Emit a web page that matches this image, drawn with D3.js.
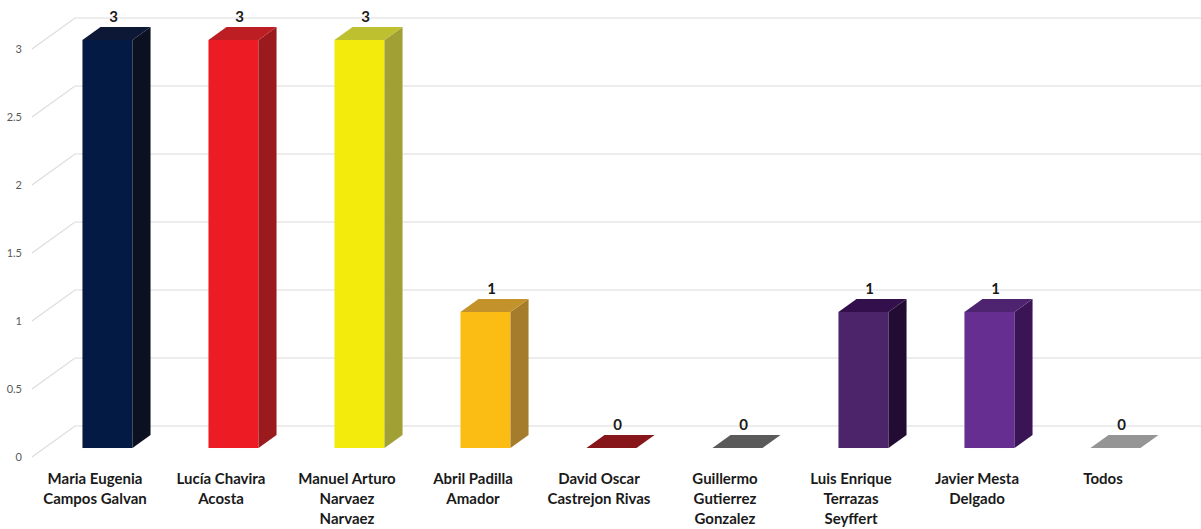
<!DOCTYPE html>
<html>
<head>
<meta charset="utf-8">
<script src="https://cdn.jsdelivr.net/npm/d3@7"></script>
<style>
  body { margin: 0; background: #fff; }
  svg { display: block; }
</style>
</head>
<body>
<svg id="chart" width="1201" height="529"></svg>
<script>
const categories = [
  'Maria Eugenia\nCampos Galvan',
  'Lucía Chavira\nAcosta',
  'Manuel Arturo\nNarvaez\nNarvaez',
  'Abril Padilla\nAmador',
  'David Oscar\nCastrejon Rivas',
  'Guillermo\nGutierrez\nGonzalez',
  'Luis Enrique\nTerrazas\nSeyffert',
  'Javier Mesta\nDelgado',
  'Todos'
];
const values = [3, 3, 3, 1, 0, 0, 1, 1, 0];
const yTicks = [0, 0.5, 1, 1.5, 2, 2.5, 3];

// face colours per bar
const frontColors = ['#021a44', '#ed1c24', '#f2eb0c', '#fbbc14', '#86161a', '#5a5a5a', '#4b2469', '#672e91', '#959595'];
const sideColors = ['#0b1120', '#9a1a1e', '#a0a035', '#a47c2c', '#5e0f12', '#3e3e3e', '#220c33', '#3b1456', '#6a6a6a'];
const topColors = ['#0c1836', '#bd1e24', '#bfc030', '#c4922a', '#86161a', '#5a5a5a', '#330f4b', '#4e2470', '#959595'];

const svg = d3.select('#chart');

// floor front plane
const x = d3.scaleBand()
  .domain(categories)
  .range([32, 1166])
  .paddingInner(0.603)
  .paddingOuter(0.3015);

const y = d3.scaleLinear().domain([0, 3]).range([457, 49]);

// depth of the box: full depth moves right/up
const DX = 43, DY = -31;
const F0 = 0.29, F1 = 0.71;
const proj = (px, v, f) => [px + DX * f, y(v) + DY * f];

// grid: left wall diagonals and back wall lines
const grid = svg.append('g').attr('class', 'grid');
yTicks.forEach(v => {
  const a = proj(x.range()[0], v, 0);
  const b = proj(x.range()[0], v, 1);
  grid.append('path')
    .attr('d', `M${a[0]},${a[1]}L${b[0]},${b[1]}L1201,${b[1]}`)
    .style('fill', 'none')
    .style('stroke', '#dcdcdc')
    .style('stroke-width', 1.2);
});

svg.append('g')
  .selectAll('text')
  .data(yTicks)
  .join('text')
  .attr('x', 22)
  .attr('y', d => y(d) + 4)
  .attr('text-anchor', 'end')
  .style('font-family', 'Lato, "Open Sans", sans-serif')
  .style('font-size', '11px')
  .style('fill', '#595959')
  .text(d => d);

// bars
const bars = svg.append('g')
  .selectAll('g')
  .data(categories.map((c, i) => ({ c, i, v: values[i] })))
  .join('g');

bars.each(function (d) {
  const g = d3.select(this);
  const x0 = x(d.c), x1 = x0 + x.bandwidth();
  const pt = p => p.join(',');
  if (d.v > 0) {
    // front
    const fl = proj(x0, d.v, F0), fr = proj(x1, 0, F0);
    g.append('rect')
      .attr('x', fl[0])
      .attr('y', fl[1])
      .attr('width', fr[0] - fl[0])
      .attr('height', fr[1] - fl[1])
      .style('fill', frontColors[d.i]);
    // side
    g.append('polygon')
      .attr('points', [proj(x1, d.v, F0), proj(x1, d.v, F1), proj(x1, 0, F1), proj(x1, 0, F0)].map(pt).join(' '))
      .style('fill', sideColors[d.i]);
  }
  // top
  g.append('polygon')
    .attr('points', [proj(x0, d.v, F0), proj(x1, d.v, F0), proj(x1, d.v, F1), proj(x0, d.v, F1)].map(pt).join(' '))
    .style('fill', topColors[d.i]);

  const lp = proj(x0 + x.bandwidth() / 2, d.v, 0.5);
  const top = proj(x0, d.v, F1);
  g.append('text')
    .attr('x', lp[0] - 3)
    .attr('y', top[1] - 5)
    .attr('text-anchor', 'middle')
    .style('font-family', 'Lato, "Open Sans", sans-serif')
    .style('font-weight', '700')
    .style('font-size', '15px')
    .style('fill', '#1a1a1a')
    .text(d.v);
});

// category labels
svg.append('g')
  .selectAll('text')
  .data(categories)
  .join('text')
  .attr('x', d => x(d) + x.bandwidth() / 2)
  .attr('y', 484)
  .attr('text-anchor', 'middle')
  .style('font-family', 'Lato, "Open Sans", sans-serif')
  .style('font-weight', '700')
  .style('font-size', '15px')
  .style('fill', '#1a1a1a')
  .each(function (d) {
    d.split('\n').forEach((line, k) => {
      d3.select(this).append('tspan')
        .attr('x', x(d) + x.bandwidth() / 2)
        .attr('dy', k === 0 ? 0 : 20)
        .text(line);
    });
  });
</script>
</body>
</html>
